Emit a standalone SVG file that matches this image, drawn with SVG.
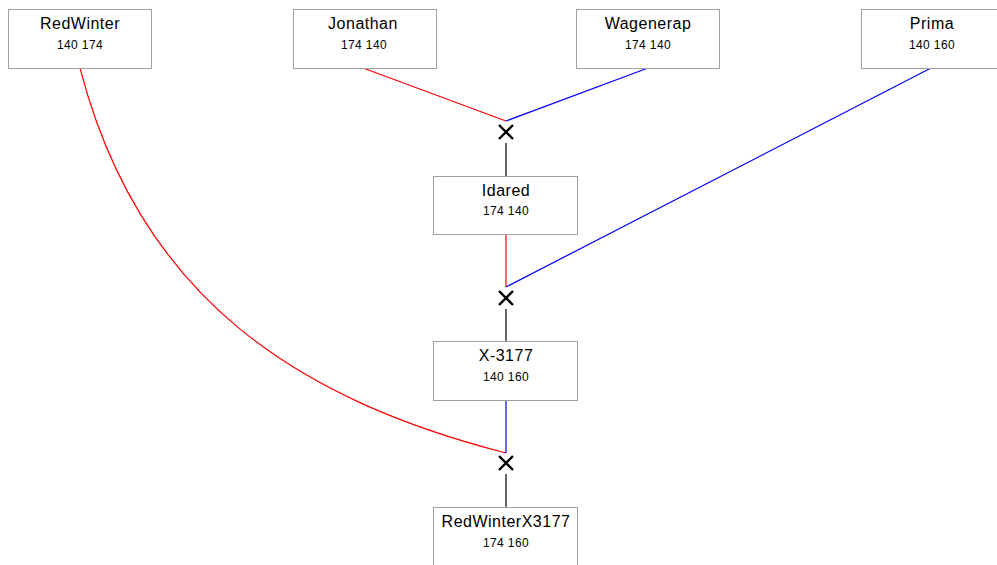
<svg xmlns="http://www.w3.org/2000/svg" width="997" height="565" viewBox="0 0 997 565">
<style>
.box{fill:#fff;stroke:#a0a0a0;stroke-width:1}
.t{font-family:"Liberation Sans",Arial,sans-serif;font-size:16px;letter-spacing:0.5px;fill:#000;text-anchor:middle}
.n{font-family:"Liberation Sans",Arial,sans-serif;font-size:12px;letter-spacing:0.4px;fill:#000;text-anchor:middle}
.r{stroke:#ff0000;fill:none;stroke-width:1.2}
.b{stroke:#0000ff;fill:none;stroke-width:1.2}
.k{stroke:#000;fill:none;stroke-width:1.2}
.x{stroke:#000;stroke-width:2.4;fill:none}
</style>
<rect width="997" height="565" fill="#fff"/>
<g id="connectors">
<path class="r" d="M80,68 C140,300 300,400 506,453"/>
<path class="r" d="M363,68 L506,121"/>
<path class="b" d="M648,68 L506,121"/>
<path class="k" d="M506,143 L506,176"/>
<path class="r" d="M506,234 L506,287"/>
<path class="b" d="M931,68 L506,287"/>
<path class="k" d="M506,309 L506,341"/>
<path class="b" d="M506,400 L506,453"/>
<path class="k" d="M506,474 L506,507"/>
<path class="x" d="M499,125 L513,139 M513,125 L499,139"/>
<path class="x" d="M499,291 L513,305 M513,291 L499,305"/>
<path class="x" d="M499,456 L513,470 M513,456 L499,470"/>
</g>
<g id="RedWinter"><rect class="box" x="8.5" y="9.5" width="143" height="59"/><text class="t" x="80" y="29">RedWinter</text><text class="n" x="80" y="49">140 174</text></g>
<g id="Jonathan"><rect class="box" x="293.5" y="9.5" width="143" height="59"/><text class="t" x="363" y="29">Jonathan</text><text class="n" x="364" y="49">174 140</text></g>
<g id="Wagenerap"><rect class="box" x="576.5" y="9.5" width="143" height="59"/><text class="t" x="648" y="29">Wagenerap</text><text class="n" x="648" y="49">174 140</text></g>
<g id="Prima"><rect class="box" x="861.5" y="9.5" width="143" height="59"/><text class="t" x="932" y="29">Prima</text><text class="n" x="932" y="49">140 160</text></g>
<g id="Idared"><rect class="box" x="433.5" y="176.5" width="144" height="58"/><text class="t" x="506" y="196">Idared</text><text class="n" x="506" y="215">174 140</text></g>
<g id="X-3177"><rect class="box" x="433.5" y="341.5" width="144" height="59"/><text class="t" x="506" y="361">X-3177</text><text class="n" x="506" y="381">140 160</text></g>
<g id="RedWinterX3177"><rect class="box" x="433.5" y="507.5" width="144" height="59"/><text class="t" x="506" y="527">RedWinterX3177</text><text class="n" x="506" y="547">174 160</text></g>
</svg>
